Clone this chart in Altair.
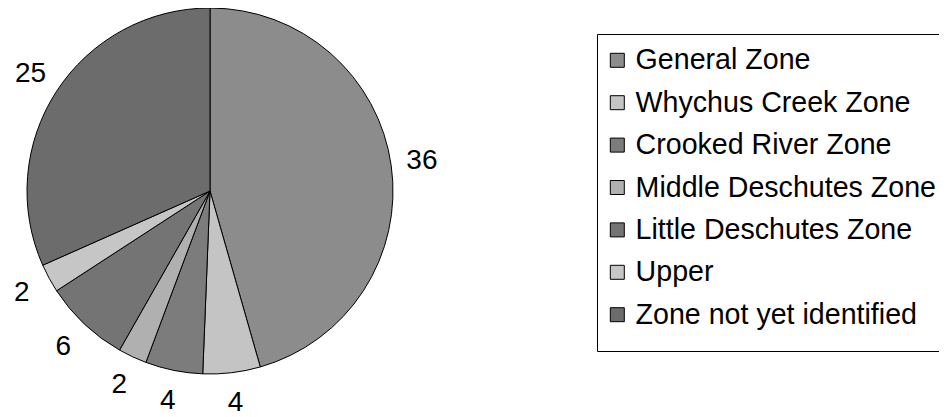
import altair as alt
import pandas as pd

zones = ["General Zone", "Whychus Creek Zone", "Crooked River Zone",
         "Middle Deschutes Zone", "Little Deschutes Zone", "Upper",
         "Zone not yet identified"]
counts = [36, 4, 4, 2, 6, 2, 25]
fills = ["#8c8c8c", "#c4c4c4", "#7c7c7c", "#b0b0b0", "#747474", "#c6c6c6", "#6c6c6c"]

df = pd.DataFrame({"zone": zones, "count": counts, "order": list(range(len(zones)))})

CX, CY, R = 202, 183, 183
FONT = "Liberation Sans"

color = alt.Color(
    "zone:N",
    scale=alt.Scale(domain=zones, range=fills),
    sort=zones,
    legend=alt.Legend(
        orient="none", legendX=589, legendY=26,
        title=" ", titleOrient="bottom", titleFontSize=8, titlePadding=2,
        symbolType="square", symbolSize=196, symbolStrokeColor="black",
        symbolStrokeWidth=1, symbolOpacity=1, symbolOffset=-6,
        labelFont=FONT, labelFontSize=28.6, labelColor="black", labelOffset=4,
        labelLimit=500,
        rowPadding=13.4, padding=12, strokeColor="black", fillColor="white",
    ),
)

base = alt.Chart(df).encode(
    theta=alt.Theta("count:Q", stack=True),
    order=alt.Order("order:Q"),
)

pie = base.mark_arc(radius=R, stroke="black", strokeWidth=1, opacity=1).encode(
    color=color, x=alt.value(CX), y=alt.value(CY)
)

labels = base.mark_text(radius=214, font=FONT, fontSize=28, color="black").encode(
    text="count:Q", x=alt.value(CX), y=alt.value(CY)
)

chart = (pie + labels).properties(
    width=931, height=409, autosize=alt.AutoSizeParams(type="none"), padding=0
).configure_view(stroke=None)

chart.save("out.html", embed_options={"renderer": "svg", "actions": False})
